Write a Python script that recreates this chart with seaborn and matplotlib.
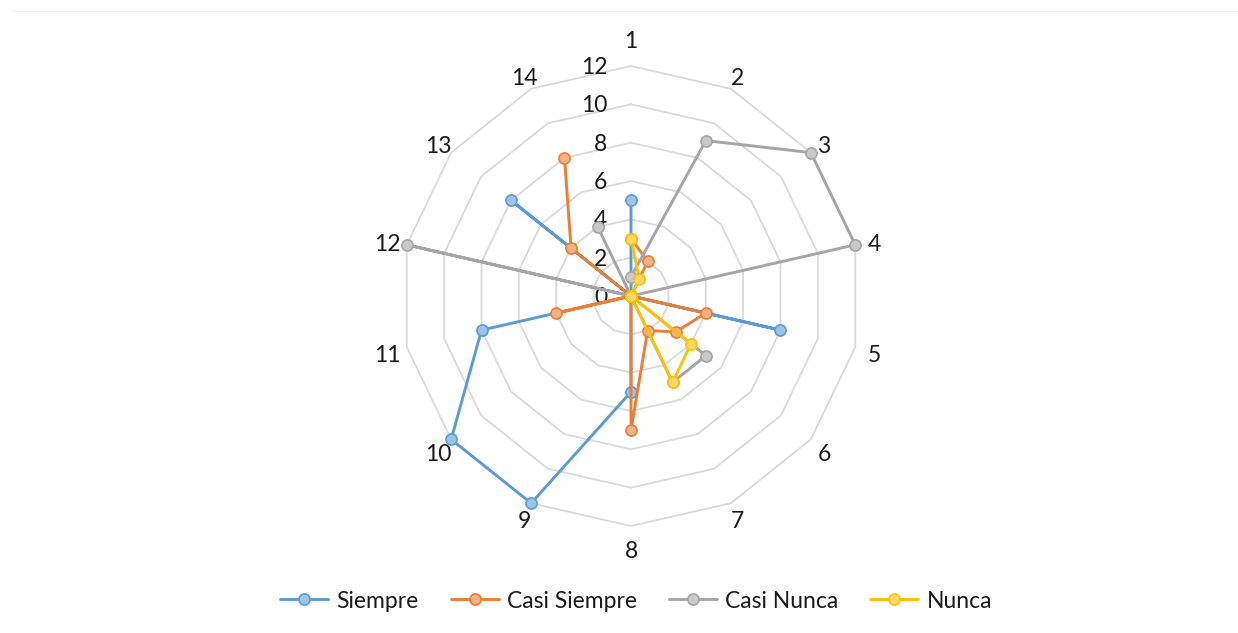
import numpy as np
import pandas as pd
import matplotlib
matplotlib.use("Agg")
import matplotlib.pyplot as plt
from matplotlib.lines import Line2D
import seaborn as sns

# Survey items (spokes) and frequency counts per answer
categories = ["1", "2", "3", "4", "5", "6", "7", "8", "9", "10", "11", "12", "13", "14"]
siempre = [5, 0, 0, 0, 8, 0, 0, 5, 12, 12, 8, 0, 8, 0]
casi_siempre = [3, 2, 0, 0, 4, 3, 2, 7, 0, 0, 4, 0, 4, 8]
casi_nunca = [1, 9, 12, 12, 0, 5, 5, 0, 0, 0, 0, 12, 0, 4]
nunca = [3, 1, 0, 0, 0, 4, 5, 0, 0, 0, 0, 0, 0, 0]
series_names = ["Siempre", "Casi Siempre", "Casi Nunca", "Nunca"]
radial_ticks = [0, 2, 4, 6, 8, 10, 12]

line_colors = ["#5B9BD5", "#ED7D31", "#A5A5A5", "#FFC000"]
face_colors = ["#9DC3E6", "#F4B183", "#C9C9C9", "#FFD966"]

sns.set_theme(style="white")
plt.rcParams["font.family"] = ["Lato", "DejaVu Sans"]
FS = 16.5
TXT = "#1a1a1a"

n = len(categories)
theta = np.linspace(0, 2 * np.pi, n, endpoint=False)
theta_closed = np.append(theta, theta[0])

fig = plt.figure(figsize=(12.38, 6.33), dpi=100)
fig.patch.set_facecolor("white")
# faint chart-area border line along the top
fig.add_artist(Line2D([11 / 1238, 1.0], [1 - 11 / 633, 1 - 11 / 633],
                      transform=fig.transFigure, color="#f0f0f0", lw=0.8))

ax = fig.add_axes([401 / 1238, 107 / 633, 460 / 1238, 460 / 633], projection="polar")
ax.set_theta_zero_location("N")
ax.set_theta_direction(-1)
ax.set_ylim(0, 12)
ax.grid(False)
ax.spines["polar"].set_visible(False)
ax.set_xticks([])
ax.set_yticks([])
ax.set_facecolor("white")

# polygonal grid rings
for v in radial_ticks[1:]:
    ax.plot(theta_closed, [v] * (n + 1), color="#D9D9D9", lw=1.3, zorder=1,
            clip_on=False)

# radial value labels along the first spoke
for v in radial_ticks:
    ax.annotate(str(v), xy=(0, v), xytext=(-17, -1), textcoords="offset points",
                ha="right", va="center", fontsize=FS, color=TXT,
                annotation_clip=False, zorder=2)

# category labels just outside the outer ring
for t, lab in zip(theta, categories):
    c, s = np.cos(t), np.sin(t)
    top_bottom = abs(c) > 0.99
    d = 16 + (9 if top_bottom else 0) + 4 * abs(s) ** 6
    dy = 0 if top_bottom else -3
    ax.annotate(lab, xy=(t, 12), xytext=(d * s * 0.72, d * c * 0.72 + dy),
                textcoords="offset points", ha="center", va="center",
                fontsize=FS, color=TXT, annotation_clip=False)

# data series
all_values = [siempre, casi_siempre, casi_nunca, nunca]
handles = []
for name, vals, lc, fc in zip(series_names, all_values, line_colors, face_colors):
    df = pd.DataFrame({"theta": theta_closed, "value": list(vals) + [vals[0]]})
    sns.lineplot(data=df, x="theta", y="value", sort=False, ax=ax, color=lc,
                 lw=2.1, marker="o", markersize=8, markerfacecolor=fc,
                 markeredgecolor=lc, markeredgewidth=1.2, zorder=3,
                 legend=False, errorbar=None, clip_on=False)
    handles.append(Line2D([], [], color=lc, lw=2.1, marker="o", markersize=8,
                          markerfacecolor=fc, markeredgecolor=lc,
                          markeredgewidth=1.2, label=name))

ax.set_xlabel("")
ax.set_ylabel("")
ax.set_ylim(0, 12)

fig.legend(handles=handles, loc="center", bbox_to_anchor=(636 / 1238, 1 - 601 / 633),
           ncol=4, frameon=False, fontsize=FS, handlelength=2.1,
           columnspacing=1.4, handletextpad=0.35, labelcolor=TXT)

fig.savefig("out.png", dpi=100, facecolor="white")
